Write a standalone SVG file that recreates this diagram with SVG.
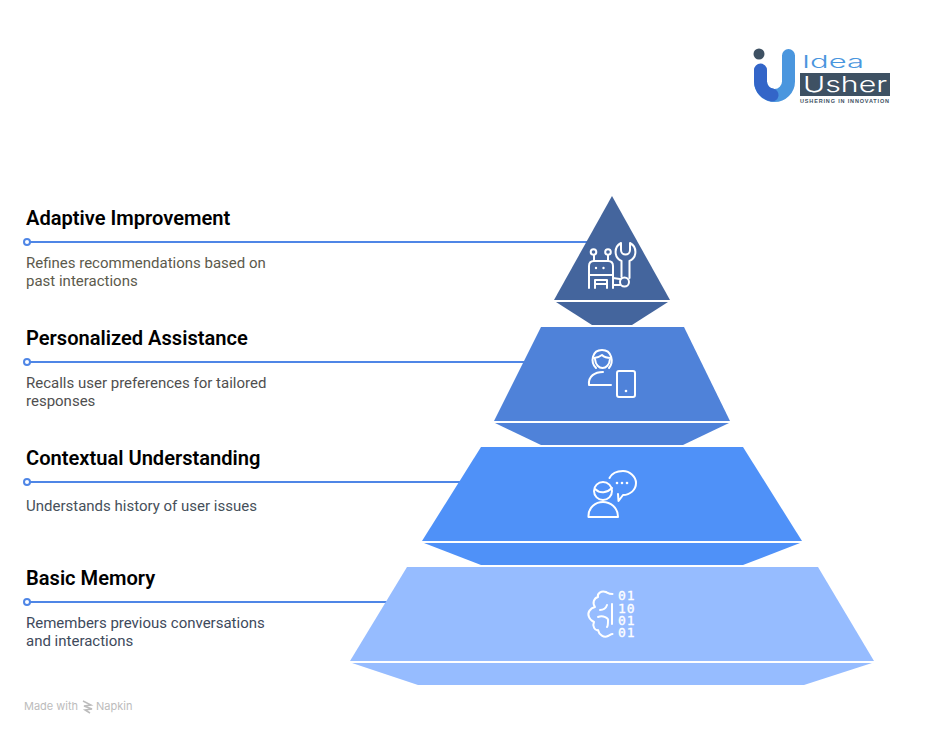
<svg xmlns="http://www.w3.org/2000/svg" width="946" height="734" viewBox="0 0 946 734">
<style>
.h{font:600 20.1px Roboto,"Liberation Sans",sans-serif;fill:#000}
.d{font:400 15px Roboto,"Liberation Sans",sans-serif}
.c{stroke:#4f86e6;stroke-width:2;fill:none}
.dot{fill:#fff;stroke:#4f86e6;stroke-width:2}
.i{fill:none;stroke:#fff;stroke-width:2;stroke-linecap:round;stroke-linejoin:round}
.b{font:400 13px "DejaVu Sans Mono","Liberation Mono",monospace;letter-spacing:1px;fill:#fff;stroke:#fff;stroke-width:.3}
.n{font:400 11px Inter,"Liberation Sans",sans-serif;fill:#bcbcbc}
</style>
<rect width="946" height="734" fill="#fff"/>
<g id="logo">
<path d="M788.500 55.500 V81.500 A14 14 0 0 1 760.500 81.500" fill="none" stroke="#4a96de" stroke-width="13" stroke-linecap="round"/>
<path d="M760.500 70 V81.500 A14 14 0 0 0 772 95" fill="none" stroke="#3365c8" stroke-width="13" stroke-linecap="round"/>
<circle cx="759" cy="54" r="5.500" fill="#3e5163"/>
<rect x="800" y="73" width="90" height="23" fill="#3e5163"/>
<text x="802" y="68" style="font:300 17px Inter,'DejaVu Sans',sans-serif" fill="#4a96de" textLength="62" lengthAdjust="spacingAndGlyphs">Idea</text>
<text x="803" y="92" style="font:300 22px Inter,'DejaVu Sans',sans-serif" fill="#fff" textLength="84" lengthAdjust="spacingAndGlyphs">Usher</text>
<text x="800" y="103" style="font:700 5.500px 'Liberation Sans',sans-serif" fill="#3e5163" textLength="89">USHERING IN INNOVATION</text>
</g>
<g id="connectors">
<path class="c" d="M27 242H590M27 362H530M27 482H465M27 602H392"/>
<circle class="dot" cx="27" cy="242" r="3"/>
<circle class="dot" cx="27" cy="362" r="3"/>
<circle class="dot" cx="27" cy="482" r="3"/>
<circle class="dot" cx="27" cy="602" r="3"/>
</g>
<g id="tier-1">
<path d="M612 196 L670 300 H554Z" fill="#44659d"/>
<path d="M556 302 H668 L632 325 H592Z" fill="#44659d"/>
<g class="i">
<path d="M589 288V266Q589 261 594 261H608Q613 261 613 266V288"/>
<path d="M589 275H613M595 288V280H607V288M595 284H607M594 261V255M608 261V255"/>
<circle cx="593.500" cy="252" r="2.800"/><circle cx="608" cy="252" r="2.800"/>
<path d="M613 278L620 279M613 285H620"/>
<path d="M621 243A10 10 0 0 0 621.500 261V277M629.500 261A10 10 0 0 0 630 243V250A4.500 4.500 0 0 1 621 250V243M629.500 261V278"/>
<circle cx="624.500" cy="282" r="4.500"/>
</g>
<circle cx="596" cy="268" r="1.200" fill="#fff"/><circle cx="603.500" cy="268" r="1.200" fill="#fff"/>
</g>
<g id="tier-2">
<path d="M541 327 H684 L730 421 H494Z" fill="#4f82d9"/>
<path d="M495 423 H729 L683 445 H541Z" fill="#4f82d9"/>
<g class="i">
<path d="M596 368C590 362 592 350 602 350C612 350 614 362 609 368"/>
<path d="M594 358C598 358 602 355 602 355C603 356 606 358 611 358M595 359C596 371 609 371 610 359"/>
<path d="M589 385C588 376 595 372 603 372M589 385H611"/>
<rect x="617" y="371" width="18" height="26" rx="2"/>
</g>
<circle cx="626" cy="391" r="1.300" fill="#fff"/>
</g>
<g id="tier-3">
<path d="M481 447 H743 L802 541 H422Z" fill="#4f91f8"/>
<path d="M424 543 H800 L743 565 H481Z" fill="#4f91f8"/>
<g class="i">
<circle cx="603" cy="491" r="9"/>
<path d="M595 489C600 494 607 493 612 488"/>
<path d="M588.500 517C588 507 596 502 603 502C610 502 618 507 618 517Z"/>
<path d="M609.500 478C612 473 618 471 623 471C630 471 636 477 636 483C636 490 630 495 623 495L618.500 501L618 494"/>
</g>
<circle cx="617" cy="483" r="1.300" fill="#fff"/><circle cx="622" cy="483" r="1.300" fill="#fff"/><circle cx="627" cy="483" r="1.300" fill="#fff"/>
</g>
<g id="tier-4">
<path d="M407 567 H818 L874 661 H350Z" fill="#96bcff"/>
<path d="M352 663 H872 L804 685 H418Z" fill="#96bcff"/>
<g class="i">
<path d="M612.500 594C609 594 608 593 606 592C601 590 597 594 598 597C594 598 592 603 595 607C590 608 587 613 589 617C590 620 592 621 594 622C592 626 595 631 598 630C599 635 604 638 608 636C610 635 611 634 612.500 634"/>
<path d="M600 610C603 610 606 608 607 605M598 617C603 615 609 618 608 621C608 624 608 626 607 627M612 604V624"/>
</g>
<text class="b"><tspan x="618" y="600">01</tspan><tspan x="618" y="612.500">10</tspan><tspan x="618" y="625">01</tspan><tspan x="618" y="637">01</tspan></text>
</g>
<g id="label-1"><text class="h" x="26" y="225">Adaptive Improvement</text>
<text class="d" x="26" y="268" fill="#5c5a4c">Refines recommendations based on</text><text class="d" x="26" y="286" fill="#5c5a4c">past interactions</text></g>
<g id="label-2"><text class="h" x="26" y="345">Personalized Assistance</text>
<text class="d" x="26" y="388" fill="#4f4f4f">Recalls user preferences for tailored</text><text class="d" x="26" y="406" fill="#4f4f4f">responses</text></g>
<g id="label-3"><text class="h" x="26" y="465">Contextual Understanding</text>
<text class="d" x="26" y="511" fill="#46505a">Understands history of user issues</text></g>
<g id="label-4"><text class="h" x="26" y="585">Basic Memory</text>
<text class="d" x="26" y="628" fill="#3e4a5c">Remembers previous conversations</text><text class="d" x="26" y="646" fill="#3e4a5c">and interactions</text></g>
<g id="credit">
<text class="n" x="24" y="710">Made with</text>
<path d="M83 701l8 4-7 1 8 3-7 1 5 3" fill="none" stroke="#bcbcbc" stroke-width="1.500"/>
<text class="n" x="96" y="710">Napkin</text>
</g>
</svg>
